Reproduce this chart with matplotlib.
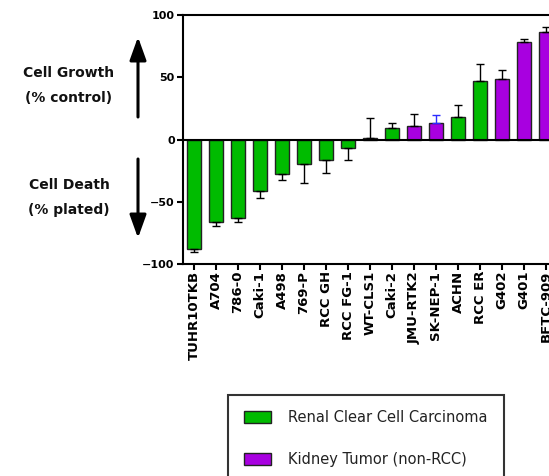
import matplotlib
matplotlib.use("Agg")
import matplotlib.pyplot as plt
from matplotlib.patches import Patch, FancyArrowPatch

cell_lines = ["TUHR10TKB", "A704", "786-0", "Caki-1", "A498", "769-P", "RCC GH",
              "RCC FG-1", "WT-CLS1", "Caki-2", "JMU-RTK2", "SK-NEP-1", "ACHN",
              "RCC ER", "G402", "G401", "BFTC-909"]
values = [-88, -66, -63, -41, -28, -20, -16.5, -6.5, 1.5, 9.5, 10.5, 13.5, 18,
          47, 48.5, 78.5, 86]
errors = [2, 3.5, 3.5, 6, 4.5, 15, 10.5, 10, 15.5, 4, 10, 6, 10, 13.5, 7, 2, 4.5]
tumor_type = ["RCC", "RCC", "RCC", "RCC", "RCC", "RCC", "RCC", "RCC", "non",
              "RCC", "non", "non", "RCC", "RCC", "non", "non", "non"]
err_colors = ["black"] * 11 + ["#2b2bff"] + ["black"] * 5
legend_labels = ["Renal Clear Cell Carcinoma", "Kidney Tumor (non-RCC)"]

GREEN = "#00bb00"
PURPLE = "#a800e0"
cmap = {"RCC": GREEN, "non": PURPLE}

W, H = 549, 476
fig = plt.figure(figsize=(W / 100, H / 100), dpi=100)
# axes extends beyond the right edge (the reference is cropped)
ax = fig.add_axes([183 / W, 1 - 264 / H, 396 / W, (264 - 15) / H])

x = list(range(len(cell_lines)))
colors = [cmap[t] for t in tumor_type]
ax.bar(x, values, width=0.68, color=colors, edgecolor="#222222", linewidth=1.0, zorder=2)

for i, (v, e, c) in enumerate(zip(values, errors, err_colors)):
    yerr = [[0], [e]] if v >= 0 else [[e], [0]]
    ax.errorbar([i], [v], yerr=yerr, fmt="none", ecolor=c, elinewidth=1.0,
                capsize=3, capthick=1.0, zorder=3)

ax.axhline(0, color="black", linewidth=1.5, zorder=4)
ax.set_xlim(-0.5, 17.5)
ax.set_ylim(-100, 100)
ax.set_yticks([-100, -50, 0, 50, 100])
ax.set_xticks(x)
ax.set_xticklabels(cell_lines, rotation=90, fontsize=9.5, fontweight="bold")
for lbl in ax.get_yticklabels():
    lbl.set_fontweight("bold")
    lbl.set_fontsize(8)
ax.tick_params(axis="both", direction="out", length=4, width=1.5, pad=2, colors="black")
ax.tick_params(axis="x", pad=1)
ax.spines["right"].set_visible(False)
for s in ["left", "bottom", "top"]:
    ax.spines[s].set_linewidth(1.5)

# side annotations
tkw = dict(fontsize=10, fontweight="bold", ha="center", va="center", color="#111111")
fig.text(69 / W, 1 - 73 / H, "Cell Growth", **tkw)
fig.text(69 / W, 1 - 98 / H, "(% control)", **tkw)
fig.text(69 / W, 1 - 185 / H, "Cell Death", **tkw)
fig.text(69 / W, 1 - 210 / H, "(% plated)", **tkw)
akw = dict(arrowstyle="-|>,head_length=1.0,head_width=0.36", color="black", lw=2.2,
           shrinkA=0, shrinkB=0, mutation_scale=14)
fig.add_artist(FancyArrowPatch((138 / W, 1 - 117 / H), (138 / W, 1 - 37 / H),
                               transform=fig.transFigure, **akw))
fig.add_artist(FancyArrowPatch((138 / W, 1 - 159 / H), (138 / W, 1 - 238 / H),
                               transform=fig.transFigure, **akw))

handles = [Patch(facecolor=GREEN, edgecolor="#222222", linewidth=1.0),
           Patch(facecolor=PURPLE, edgecolor="#222222", linewidth=1.0)]
fs = 10.5
em = fs * 100 / 72
leg = fig.legend(handles, legend_labels, loc="upper left",
                 bbox_to_anchor=(228 / W, 1 - 395 / H), fontsize=fs,
                 frameon=True, fancybox=False, borderpad=15.5 / em,
                 labelspacing=(41 - em * 1.0) / em,
                 handlelength=27 / em, handleheight=13 / em, handletextpad=18 / em,
                 borderaxespad=0)
leg.get_frame().set_edgecolor("black")
leg.get_frame().set_linewidth(1.5)
for t in leg.get_texts():
    t.set_color("#222222")

fig.savefig("out.png", dpi=100)
